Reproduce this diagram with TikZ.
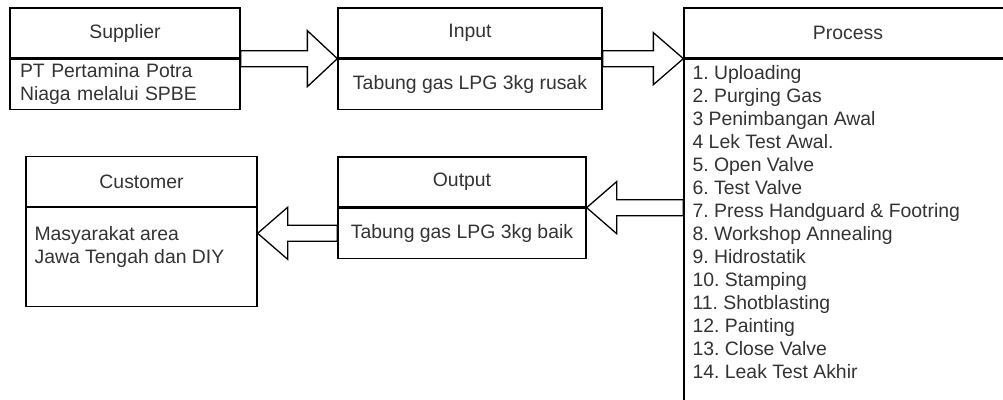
\documentclass[tikz,border=0pt]{standalone}
\usepackage{fontspec}
\setmainfont{Liberation Sans}
\frenchspacing
\usetikzlibrary{positioning,calc}
\definecolor{txt}{RGB}{51,51,51}
\tikzset{
  titlebox/.style={draw=black,line width=1.3pt,inner sep=0pt,minimum width=#1,
    minimum height=50pt,font=\fontsize{19.4}{23}\selectfont,text=txt},
  bodybox/.style={titlebox=#1,align=center},
  listtext/.style={inner sep=0pt,align=left,font=\fontsize{19.4}{23}\selectfont,text=txt},
  fat/.style={draw=black,fill=white,line width=1.3pt,line join=miter},
}
% hollow block arrow from #1 to #2 (same height)
\newcommand{\fatarrow}[3][26pt]{%
  \draw[fat] let \p1=(#2), \p2=(#3), \p3=($(#3)!30pt!(#2)$) in
    (\x1,\y1+8pt) -- (\x3,\y1+8pt) -- (\x3,\y2+#1) -- (\x2,\y2)
    -- (\x3,\y2-#1) -- (\x3,\y1-8pt) -- (\x1,\y1-8pt) -- cycle;}

\begin{document}
\begin{tikzpicture}[x=1pt,y=-1pt]
  \useasboundingbox (0,0) rectangle (1003,399);
  \clip (0,0) rectangle (1003,399);

  % top row
  \node[titlebox=230pt] (suptitle) at (125,33) {Supplier};
  \node[bodybox=230pt,text width=210pt,inner xsep=10pt,align=left,below=0pt of suptitle] (supbody)
    {PT Pertamina Potra\\Niaga melalui SPBE};
  \node[titlebox=264pt] (intitle) at (470,33) {Input};
  \node[bodybox=264pt,below=0pt of intitle] (inbody) {Tabung gas LPG 3kg rusak};
  \node[titlebox=328pt] (prtitle) at (848,33) {Process};
  \node[bodybox=328pt,minimum height=370pt,below=0pt of prtitle] (prbody) {};
  \node[listtext,anchor=north west] (prlist) at ([xshift=9pt,yshift=-7pt]prbody.north west)
    {1. Uploading\\2. Purging Gas\\3 Penimbangan Awal\\4 Lek Test Awal.\\5. Open Valve\\
     6. Test Valve\\7. Press Handguard \& Footring\\8. Workshop Annealing\\9. Hidrostatik\\
     10. Stamping\\11. Shotblasting\\12. Painting\\13. Close Valve\\14. Leak Test Akhir};

  % bottom row
  \node[titlebox=248pt] (outtitle) at (462,182) {Output};
  \node[bodybox=248pt,below=0pt of outtitle] (outbody) {Tabung gas LPG 3kg baik};
  \node[titlebox=231pt] (custitle) at (141.5,181.5) {Customer};
  \node[bodybox=231pt,minimum height=99pt,below=0pt of custitle] (cusbody) {};
  \node[listtext,anchor=north west] (cuslist) at ([xshift=9pt,yshift=-19pt]cusbody.north west)
    {Masyarakat area\\Jawa Tengah dan DIY};

  % flows
  \fatarrow[28pt]{suptitle.south east}{intitle.south west}
  \fatarrow{intitle.south east}{prtitle.south west}
  \fatarrow{prbody.west |- outtitle.south east}{outtitle.south east}
  \fatarrow{outbody.west}{cusbody.east |- outbody.west}
\end{tikzpicture}
\end{document}
